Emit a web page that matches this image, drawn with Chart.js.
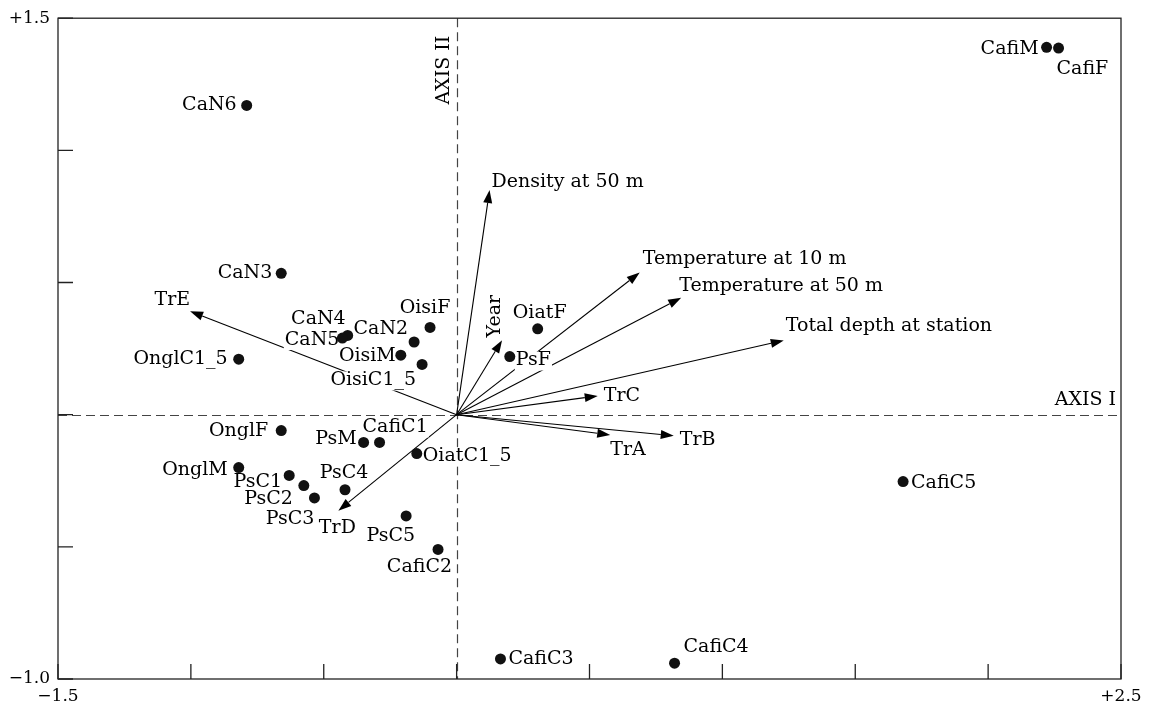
<!DOCTYPE html>
<html>
<head>
<meta charset="utf-8">
<script src="https://cdn.jsdelivr.net/npm/chart.js@4"></script>
<style>
  html, body { margin: 0; padding: 0; background: #fff; }
  canvas { display: block; }
</style>
</head>
<body>
<canvas id="ordination" width="1150" height="707"></canvas>
<script>
// sample / species scores
var pointNames = ["CaN6", "CafiM", "CafiF", "CaN3", "CaN4", "CaN5", "CaN2", "OisiF", "OisiM", "OisiC1_5",
	"OnglC1_5", "OnglF", "PsM", "CafiC1", "OiatC1_5", "OnglM", "PsC1", "PsC2", "PsC3", "PsC4",
	"PsC5", "CafiC2", "CafiC3", "CafiC4", "CafiC5", "OiatF", "PsF"];
var pointX = [-0.79, 2.22, 2.265, -0.66, -0.41, -0.43, -0.16, -0.10, -0.21, -0.13,
	-0.82, -0.66, -0.35, -0.29, -0.15, -0.82, -0.63, -0.575, -0.535, -0.42,
	-0.19, -0.07, 0.165, 0.82, 1.68, 0.305, 0.20];
var pointY = [1.17, 1.39, 1.387, 0.535, 0.30, 0.29, 0.275, 0.33, 0.225, 0.19,
	0.21, -0.06, -0.105, -0.105, -0.147, -0.20, -0.23, -0.268, -0.315, -0.284,
	-0.383, -0.51, -0.924, -0.94, -0.253, 0.325, 0.22];

// environmental vectors (arrows from origin)
var vectorNames = ["Density at 50 m", "Temperature at 10 m", "Temperature at 50 m", "Total depth at station",
	"Year", "TrC", "TrA", "TrB", "TrE", "TrD"];
var vectorX = [0.124, 0.689, 0.845, 1.231, 0.171, 0.531, 0.578, 0.817, -1.003, -0.445];
var vectorY = [0.850, 0.538, 0.442, 0.281, 0.282, 0.071, -0.077, -0.080, 0.391, -0.363];

// axis end labels
var xEndLabels = ["\u22121.5", "+2.5"];
var yEndLabels = ["\u22121.0", "+1.5"];
var axisNames = ["AXIS I", "AXIS II"];

// label offsets in px from the mark: [dx, dy, align]
var pointLabelPos = {
	CaN6: [-10, 0, "right"], CafiM: [-8, 2, "right"], CafiF: [-2, 21, "left"],
	CaN3: [-9, 0, "right"], CaN4: [-2, -16, "right"], CaN5: [-3, 2, "right"],
	CaN2: [-6, -13, "right"], OisiF: [-5, -19, "center"], OisiM: [-5, 1, "right"],
	OisiC1_5: [-6, 16, "right"], OnglC1_5: [-11, 0, "right"], OnglF: [-13, 1, "right"],
	PsM: [-7, -3, "right"], CafiC1: [-17, -15, "left"], OiatC1_5: [6, 3, "left"],
	OnglM: [-11, 3, "right"], PsC1: [-7, 7, "right"], PsC2: [-11, 14, "right"],
	PsC3: [0, 21, "right"], PsC4: [-1, -17, "center"], PsC5: [9, 20, "right"],
	CafiC2: [14, 18, "right"], CafiC3: [8, 0, "left"], CafiC4: [9, -16, "left"],
	CafiC5: [8, 2, "left"], OiatF: [2, -16, "center"], PsF: [6, 4, "left"]
};
var vectorLabelPos = {
	"Density at 50 m": [2, -8, "left"], "Temperature at 10 m": [3, -13, "left"],
	"Temperature at 50 m": [-2, -12, "left"], "Total depth at station": [2, -14, "left"],
	"Year": [-7, -24, "rot"], "TrC": [6, 0, "left"], "TrA": [0, 15, "left"],
	"TrB": [6, 4, "left"], "TrE": [0, -11, "right"], "TrD": [-1, 17, "center"]
};

var FONT = "19px 'DejaVu Serif', 'Liberation Serif', serif";
var INK = "#000";

var points = pointNames.map(function(n, i){ return {x: pointX[i], y: pointY[i], name: n}; });

function drawText(ctx, txt, x, y, align, box) {
	ctx.font = FONT;
	ctx.textBaseline = "middle";
	if (align === "rot") {
		ctx.save();
		ctx.translate(x, y);
		ctx.rotate(-Math.PI / 2);
		ctx.textAlign = "center";
		ctx.fillStyle = INK;
		ctx.fillText(txt, 0, 0);
		ctx.restore();
		return;
	}
	ctx.textAlign = align;
	if (box) {
		var w = ctx.measureText(txt).width;
		var left = align === "right" ? x - w : (align === "center" ? x - w / 2 : x);
		ctx.fillStyle = "#fff";
		ctx.fillRect(left - 1, y - 9, w + 2, 19);
	}
	ctx.fillStyle = INK;
	ctx.fillText(txt, x, y);
}

var ordinationPlugin = {
	id: "ordination",
	beforeDatasetsDraw: function(chart) {
		var ctx = chart.ctx, a = chart.chartArea;
		var sx = chart.scales.x, sy = chart.scales.y;
		var x0 = sx.getPixelForValue(0), y0 = sy.getPixelForValue(0);
		ctx.save();

		// dashed zero axes
		ctx.strokeStyle = "#444";
		ctx.lineWidth = 1.2;
		ctx.setLineDash([9, 5]);
		ctx.beginPath();
		ctx.moveTo(a.left, Math.round(y0) + 0.5);
		ctx.lineTo(a.right, Math.round(y0) + 0.5);
		ctx.moveTo(Math.round(x0) + 0.5, a.top);
		ctx.lineTo(Math.round(x0) + 0.5, a.bottom);
		ctx.stroke();
		ctx.setLineDash([]);

		// frame
		ctx.strokeStyle = "#222";
		ctx.lineWidth = 1.3;
		ctx.strokeRect(a.left, a.top, a.right - a.left, a.bottom - a.top);

		// inward ticks
		ctx.lineWidth = 1.3;
		ctx.beginPath();
		sx.ticks.forEach(function(t){
			var px = sx.getPixelForValue(t.value);
			ctx.moveTo(px, a.bottom);
			ctx.lineTo(px, a.bottom - 15);
		});
		sy.ticks.forEach(function(t){
			var py = sy.getPixelForValue(t.value);
			ctx.moveTo(a.left, py);
			ctx.lineTo(a.left + 15, py);
		});
		ctx.stroke();

		// vectors
		ctx.strokeStyle = INK;
		ctx.fillStyle = INK;
		ctx.lineWidth = 1.1;
		vectorNames.forEach(function(n, i){
			var tx = sx.getPixelForValue(vectorX[i]), ty = sy.getPixelForValue(vectorY[i]);
			var ang = Math.atan2(ty - y0, tx - x0);
			var hl = 13, hw = 4.5;
			var bx = tx - hl * Math.cos(ang), by = ty - hl * Math.sin(ang);
			ctx.beginPath();
			ctx.moveTo(x0, y0);
			ctx.lineTo(bx, by);
			ctx.stroke();
			ctx.beginPath();
			ctx.moveTo(tx, ty);
			ctx.lineTo(bx + hw * Math.sin(ang), by - hw * Math.cos(ang));
			ctx.lineTo(bx - hw * Math.sin(ang), by + hw * Math.cos(ang));
			ctx.closePath();
			ctx.fill();
		});

		// vector labels
		vectorNames.forEach(function(n, i){
			var p = vectorLabelPos[n];
			drawText(ctx, n, sx.getPixelForValue(vectorX[i]) + p[0], sy.getPixelForValue(vectorY[i]) + p[1], p[2], false);
		});

		// point labels (white box cuts lines under them)
		points.forEach(function(pt){
			var p = pointLabelPos[pt.name];
			drawText(ctx, pt.name, sx.getPixelForValue(pt.x) + p[0], sy.getPixelForValue(pt.y) + p[1], p[2], true);
		});

		// axis names
		drawText(ctx, axisNames[0], a.right - 5, y0 - 15, "right", false);
		drawText(ctx, axisNames[1], x0 - 13, a.top + 52, "rot", false);

		ctx.restore();
	}
};

new Chart("ordination", {
	type: "scatter",
	data: {
		datasets: [{
			data: points,
			backgroundColor: "#111",
			borderWidth: 0,
			pointRadius: 5.5,
			pointHoverRadius: 5.5,
			clip: false
		}]
	},
	options: {
		responsive: false,
		animation: false,
		events: [],
		layout: { padding: { top: 16, right: 29, left: 0, bottom: 0 } },
		plugins: { legend: { display: false }, tooltip: { enabled: false } },
		scales: {
			x: {
				type: "linear", min: -1.5, max: 2.5,
				grid: { display: false, drawTicks: false },
				border: { display: false },
				afterFit: function(s){ s.height = 28; },
				ticks: {
					stepSize: 0.5, autoSkip: false, maxRotation: 0, padding: 7,
					color: INK, font: { family: "'DejaVu Serif', serif", size: 17 },
					callback: function(v, i, t){ return i === 0 ? xEndLabels[0] : (i === t.length - 1 ? xEndLabels[1] : ""); }
				}
			},
			y: {
				type: "linear", min: -1.0, max: 1.5,
				grid: { display: false, drawTicks: false },
				border: { display: false },
				afterFit: function(s){ s.width = 58; },
				ticks: {
					stepSize: 0.5, autoSkip: false, padding: 8,
					color: INK, font: { family: "'DejaVu Serif', serif", size: 17 },
					callback: function(v, i, t){ return i === 0 ? yEndLabels[0] : (i === t.length - 1 ? yEndLabels[1] : ""); }
				}
			}
		}
	},
	plugins: [ordinationPlugin]
});
</script>
</body>
</html>
